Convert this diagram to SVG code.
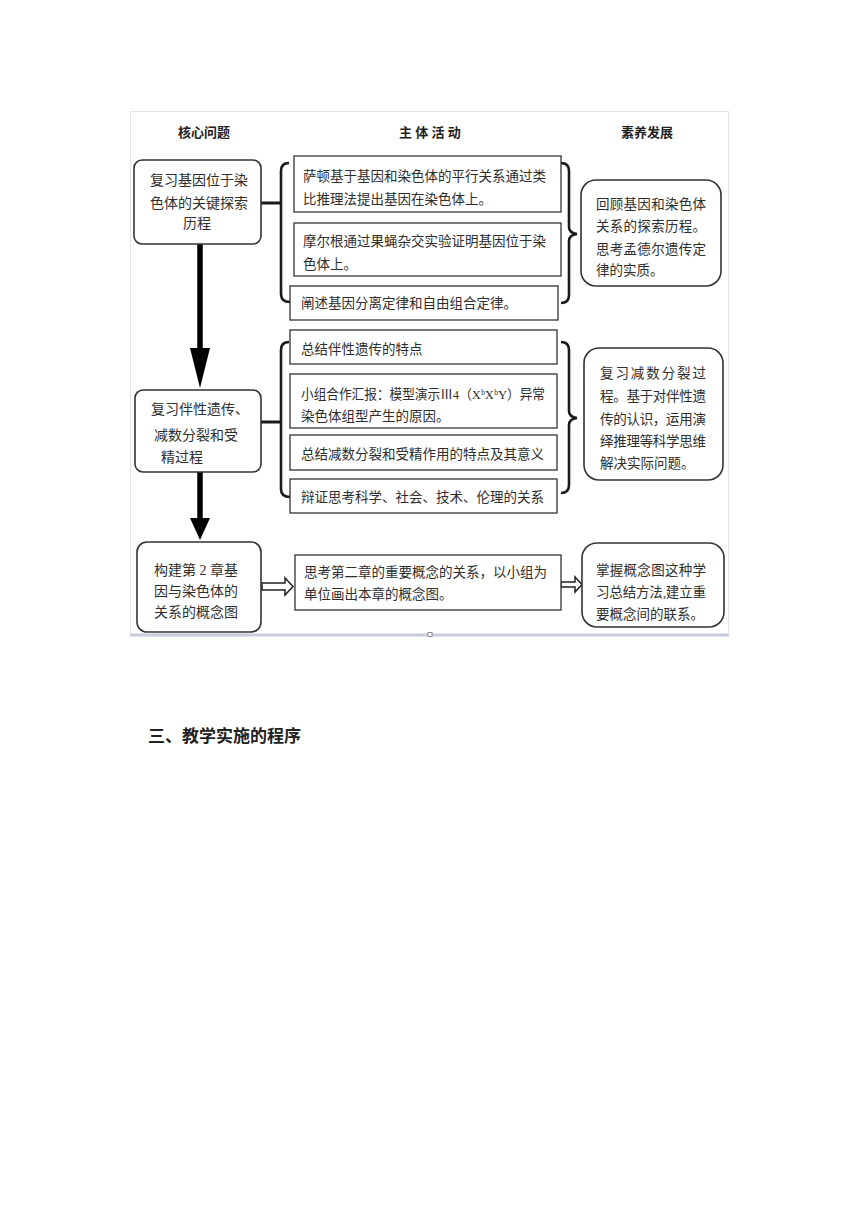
<svg xmlns="http://www.w3.org/2000/svg" width="860" height="1216" viewBox="0 0 860 1216">
<style>
.t{font-family:"Liberation Serif","Noto Sans CJK SC",serif;font-size:13.5px;fill:#2e2e2e}
.lt{font-family:"Liberation Serif","Noto Sans CJK SC",serif;font-size:14px;fill:#2e2e2e}
.h{font-family:"Liberation Serif","Noto Sans CJK SC",serif;font-size:13px;font-weight:bold;fill:#222}
.rb{fill:#fff;stroke:#333;stroke-width:1.6}
.ab{fill:#fff;stroke:#333;stroke-width:1.3}
.br{fill:none;stroke:#1a1a1a;stroke-width:2.6}
.ha{fill:#fff;stroke:#222;stroke-width:1.5;stroke-linejoin:miter}
</style>
<rect width="860" height="1216" fill="#fff"/>
<g id="frame">
<rect x="130.5" y="111.5" width="598" height="523" fill="#fff" stroke="#e4e6e8" stroke-width="1"/>
<line x1="130" y1="635" x2="729" y2="635" stroke="#c6ceda" stroke-width="3"/>
<rect x="428" y="632.5" width="4" height="4" fill="#fff" stroke="#777" stroke-width="0.8"/>
</g>
<g id="headers">
<text class="h" x="178" y="137">核心问题</text>
<text class="h" x="399" y="137">主 体 活 动</text>
<text class="h" x="621" y="137">素养发展</text>
</g>
<g id="connectors">
<line x1="200" y1="244" x2="200" y2="349" stroke="#000" stroke-width="5.5"/>
<polygon points="190,348 210,348 200,388" fill="#000"/>
<line x1="200" y1="472" x2="200" y2="519" stroke="#000" stroke-width="5.5"/>
<polygon points="190,518 210,518 200,540" fill="#000"/>
<line x1="261" y1="203" x2="281" y2="203" stroke="#1a1a1a" stroke-width="3"/>
<path class="br" d="M289 163 Q281 163 281 171 L281 294 Q281 302 290 302"/>
<line x1="261" y1="422" x2="281" y2="422" stroke="#1a1a1a" stroke-width="3"/>
<path class="br" d="M289 342 Q281 342 281 350 L281 489 Q281 497 290 497"/>
<path class="br" d="M561 163 Q569 163 569 171 L569 227 Q569 233 577 234 Q569 235 569 241 L569 295 Q569 303 561 303"/>
<path class="br" d="M561 342 Q569 342 569 350 L569 411 Q569 417 577 418 Q569 419 569 425 L569 485 Q569 493 561 493"/>
<polygon class="ha" points="262,583 285,583 285,578 293,586.5 285,595 285,590 262,590"/>
<polygon class="ha" points="561,582 575,582 575,577 582,584.5 575,592 575,587 561,587"/>
</g>
<g id="q1">
<rect class="rb" x="134" y="160" width="127" height="84" rx="8"/>
<text class="lt" x="199" y="185" text-anchor="middle">复习基因位于染</text>
<text class="lt" x="199" y="208" text-anchor="middle">色体的关键探索</text>
<text class="lt" x="197" y="228" text-anchor="middle">历程</text>
</g>
<g id="q2">
<rect class="rb" x="135" y="390" width="126" height="82" rx="8"/>
<text class="lt" x="151" y="414">复习伴性遗传、</text>
<text class="lt" x="154" y="440">减数分裂和受</text>
<text class="lt" x="161" y="462">精过程</text>
</g>
<g id="q3">
<rect class="rb" x="137" y="542" width="124" height="90" rx="10"/>
<text class="lt" x="154" y="575">构建第 2 章基</text>
<text class="lt" x="154" y="596">因与染色体的</text>
<text class="lt" x="154" y="617">关系的概念图</text>
</g>
<g id="a1">
<rect class="ab" x="294" y="156" width="267" height="56"/>
<text class="t" x="303" y="181">萨顿基于基因和染色体的平行关系通过类</text>
<text class="t" x="303" y="204">比推理法提出基因在染色体上。</text>
</g>
<g id="a2">
<rect class="ab" x="294" y="223" width="267" height="53"/>
<text class="t" x="303" y="246">摩尔根通过果蝇杂交实验证明基因位于染</text>
<text class="t" x="303" y="269">色体上。</text>
</g>
<g id="a3">
<rect class="ab" x="290" y="286" width="268" height="34"/>
<text class="t" x="301" y="308">阐述基因分离定律和自由组合定律。</text>
</g>
<g id="b1">
<rect class="ab" x="290" y="330" width="267" height="34"/>
<text class="t" x="301" y="354">总结伴性遗传的特点</text>
</g>
<g id="b2">
<rect class="ab" x="290" y="374" width="267" height="54"/>
<text class="t" x="301" y="399" textLength="244" lengthAdjust="spacingAndGlyphs">小组合作汇报：模型演示Ⅲ4（XᵇXᵇY）异常</text>
<text class="t" x="301" y="421">染色体组型产生的原因。</text>
</g>
<g id="b3">
<rect class="ab" x="290" y="435" width="267" height="35"/>
<text class="t" x="301" y="459">总结减数分裂和受精作用的特点及其意义</text>
</g>
<g id="b4">
<rect class="ab" x="290" y="479" width="267" height="34"/>
<text class="t" x="301" y="502">辩证思考科学、社会、技术、伦理的关系</text>
</g>
<g id="c1">
<rect class="ab" x="295" y="555" width="266" height="55"/>
<text class="t" x="304" y="577">思考第二章的重要概念的关系，以小组为</text>
<text class="t" x="304" y="599">单位画出本章的概念图。</text>
</g>
<g id="o1">
<rect class="rb" x="581" y="180" width="140" height="106" rx="15"/>
<text class="t" x="596" y="209" textLength="110" lengthAdjust="spacing">回顾基因和染色体</text>
<text class="t" x="596" y="231" textLength="110" lengthAdjust="spacing">关系的探索历程。</text>
<text class="t" x="596" y="254" textLength="110" lengthAdjust="spacing">思考孟德尔遗传定</text>
<text class="t" x="596" y="275">律的实质。</text>
</g>
<g id="o2">
<rect class="rb" x="584" y="348" width="139" height="132" rx="15"/>
<text class="t" x="600" y="378" textLength="106" lengthAdjust="spacing">复习减数分裂过</text>
<text class="t" x="600" y="401" textLength="106" lengthAdjust="spacing">程。基于对伴性遗</text>
<text class="t" x="600" y="424" textLength="106" lengthAdjust="spacing">传的认识，运用演</text>
<text class="t" x="600" y="446" textLength="106" lengthAdjust="spacing">绎推理等科学思维</text>
<text class="t" x="600" y="468">解决实际问题。</text>
</g>
<g id="o3">
<rect class="rb" x="582" y="543" width="142" height="84" rx="15"/>
<text class="t" x="596" y="575" textLength="110" lengthAdjust="spacing">掌握概念图这种学</text>
<text class="t" x="596" y="597" textLength="110" lengthAdjust="spacing">习总结方法,建立重</text>
<text class="t" x="596" y="619">要概念间的联系。</text>
</g>
<g id="heading">
<text x="148" y="742" font-family="'Noto Sans CJK SC','Liberation Sans',sans-serif" font-size="17" font-weight="bold" fill="#222">三、教学实施的程序</text>
</g>
</svg>
